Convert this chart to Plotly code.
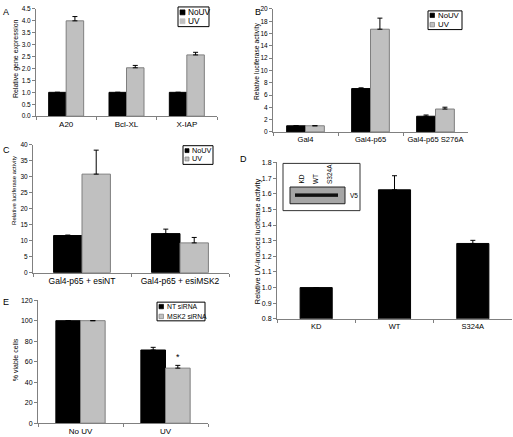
import plotly.graph_objects as go

W, H = 513, 437

# ---------------- data ----------------
a_cats = ["A20", "Bcl-XL", "X-IAP"]
a_nouv = [1.0, 1.0, 1.0]
a_nouv_err = [0, 0, 0]
a_uv = [4.0, 2.03, 2.57]
a_uv_err = [0.18, 0.1, 0.11]

b_cats = ["Gal4", "Gal4-p65", "Gal4-p65 S276A"]
b_nouv = [1.0, 7.05, 2.55]
b_nouv_err = [0, 0.12, 0.2]
b_uv = [1.0, 16.7, 3.72]
b_uv_err = [0, 1.8, 0.3]

c_cats = ["Gal4-p65 + esiNT", "Gal4-p65 + esiMSK2"]
c_nouv = [11.6, 12.2]
c_nouv_err = [0.15, 1.4]
c_uv = [30.8, 9.3]
c_uv_err = [7.5, 1.7]

d_cats = ["KD", "WT", "S324A"]
d_vals = [1.0, 1.625, 1.282]
d_err = [0, 0.09, 0.02]

e_cats = ["No UV", "UV"]
e_nt = [100, 71.4]
e_nt_err = [0, 2.6]
e_msk2 = [100, 53.7]
e_msk2_err = [0, 2.7]

BLACK = "#000000"
GRAY = "#c0c0c0"
EDGE = "#7f7f7f"
AXC = "#808080"
FONT = "Liberation Sans, Arial, sans-serif"


def px(x):
    return x / W


def py(y):
    return 1 - y / H


def bar(x, y, err, color, xa, ya, name, edge, width=None):
    return go.Bar(
        x=x, y=y, name=name, xaxis=xa, yaxis=ya, showlegend=False, width=width,
        marker=dict(color=color, line=dict(color=edge, width=1)),
        error_y=dict(type="data", symmetric=False, array=err,
                     arrayminus=[0] * len(err), color="black",
                     thickness=1, width=2.5),
    )


fig = go.Figure()
# A
fig.add_trace(bar(a_cats, a_nouv, a_nouv_err, BLACK, "x", "y", "NoUV", BLACK))
fig.add_trace(bar(a_cats, a_uv, a_uv_err, GRAY, "x", "y", "UV", EDGE))
# B
fig.add_trace(bar(b_cats, b_nouv, b_nouv_err, BLACK, "x2", "y2", "NoUV", BLACK))
fig.add_trace(bar(b_cats, b_uv, b_uv_err, GRAY, "x2", "y2", "UV", EDGE))
# C
fig.add_trace(bar(c_cats, c_nouv, c_nouv_err, BLACK, "x3", "y3", "NoUV", BLACK))
fig.add_trace(bar(c_cats, c_uv, c_uv_err, GRAY, "x3", "y3", "UV", EDGE))
# D
fig.add_trace(bar(d_cats, d_vals, d_err, BLACK, "x4", "y4", "D", BLACK, width=0.41))
# E
fig.add_trace(bar(e_cats, e_nt, e_nt_err, BLACK, "x5", "y5", "NT siRNA", BLACK))
fig.add_trace(bar(e_cats, e_msk2, e_msk2_err, GRAY, "x5", "y5", "MSK2 siRNA", EDGE))


def xax(x0, x1, anchor, fs):
    return dict(domain=[px(x0), px(x1)], anchor=anchor, type="category",
                showline=True, linecolor=AXC, linewidth=1, showgrid=False,
                zeroline=False, ticks="outside", tickson="boundaries",
                ticklen=3, tickcolor=AXC, fixedrange=True,
                tickfont=dict(family=FONT, size=fs, color="black"))


def yax(y0, y1, anchor, rng, dtick, fmt, fs):
    return dict(domain=[py(y1), py(y0)], anchor=anchor, range=rng,
                dtick=dtick, tick0=rng[0], tickformat=fmt, showline=True,
                linecolor=AXC, linewidth=1, showgrid=False, zeroline=False,
                ticks="outside", ticklen=3, tickcolor=AXC, fixedrange=True,
                tickfont=dict(family=FONT, size=fs, color="black"))


layout = dict(
    width=W, height=H, margin=dict(l=0, r=0, t=0, b=0),
    paper_bgcolor="white", plot_bgcolor="white",
    barmode="group", showlegend=False, bargap=0.42, bargroupgap=0,
    font=dict(family=FONT, color="black"),
    xaxis=xax(36, 217, "y", 8),
    yaxis=yax(5, 114, "x", [0, 4.5], 0.5, ".1f", 6.5),
    xaxis2=xax(273, 468, "y2", 7.6),
    yaxis2=yax(5, 130, "x2", [0, 20], 2, "d", 6.5),
    xaxis3=xax(33, 229, "y3", 8.5),
    yaxis3=yax(143, 273, "x3", [0, 40], 5, "d", 6.5),
    xaxis4=xax(277, 512, "y4", 7.5),
    yaxis4=yax(161, 320, "x4", [0.8, 1.8], 0.1, ".1f", 7),
    xaxis5=xax(38, 208, "y5", 8),
    yaxis5=yax(301, 426, "x5", [0, 120], 20, "d", 7),
)
fig.update_layout(**layout)

shapes = []
annotations = []

# panel letters
for letter, x, y in [("A", 6, 8), ("B", 258, 8), ("C", 6, 148), ("D", 243, 158), ("E", 6, 303)]:
    annotations.append(dict(text=letter, x=px(x), y=py(y), xref="paper", yref="paper",
                            showarrow=False, xanchor="center", yanchor="middle",
                            font=dict(family=FONT, size=9, color="black")))

# y-axis titles
for text, x, y, fs in [("Relative gene expression", 16, 56, 7),
                       ("Relative luciferase activity", 257, 58, 6.7),
                       ("Relative luciferase activity", 14, 190, 6),
                       ("Relative UV-induced luciferase activity", 257, 241, 7.4),
                       ("% viable cells", 15, 362, 7)]:
    annotations.append(dict(text=text, x=px(x), y=py(y), xref="paper", yref="paper",
                            showarrow=False, textangle=-90, xanchor="center", yanchor="middle",
                            font=dict(family=FONT, size=fs, color="black")))


def legend(box, items, fs, sq):
    x0, y0, x1, y1 = box
    shapes.append(dict(type="rect", xref="paper", yref="paper",
                       x0=px(x0), x1=px(x1), y0=py(y1), y1=py(y0),
                       line=dict(color="black", width=1), fillcolor="white"))
    for (label, color, edge, yy) in items:
        shapes.append(dict(type="rect", xref="paper", yref="paper",
                           x0=px(x0 + 2), x1=px(x0 + 2 + sq), y0=py(yy + sq / 2), y1=py(yy - sq / 2),
                           line=dict(color=edge, width=0.7), fillcolor=color))
        annotations.append(dict(text=label, x=px(x0 + 3 + sq), y=py(yy), xref="paper", yref="paper",
                                showarrow=False, xanchor="left", yanchor="middle",
                                font=dict(family=FONT, size=fs, color="black")))


legend((178, 3, 209, 23), [("NoUV", BLACK, BLACK, 8.5), ("UV", GRAY, GRAY, 17.5)], 8.3, 5)
legend((428, 7, 462, 26), [("NoUV", BLACK, BLACK, 11.5), ("UV", GRAY, EDGE, 21)], 7.8, 4.5)
legend((183, 144, 213, 163), [("NoUV", BLACK, BLACK, 149), ("UV", GRAY, EDGE, 157.5)], 7.3, 4)
legend((157, 303, 205, 322), [("NT siRNA", BLACK, BLACK, 307.5), ("MSK2 siRNA", GRAY, EDGE, 317.5)], 6.8, 4.5)

# asterisk in E
annotations.append(dict(text="*", x="UV", y=e_msk2[1] + e_msk2_err[1], xref="x5", yref="y5",
                        xshift=12.5, yshift=1, showarrow=False, yanchor="bottom",
                        font=dict(family=FONT, size=9, color="black")))

# inset in D (western blot picture)
shapes.append(dict(type="rect", xref="paper", yref="paper",
                   x0=px(283), x1=px(360), y0=py(210), y1=py(162),
                   line=dict(color="#333333", width=1), fillcolor="white"))
shapes.append(dict(type="rect", xref="paper", yref="paper",
                   x0=px(290), x1=px(345), y0=py(203), y1=py(186),
                   line=dict(color="#222222", width=1), fillcolor="#a6a6a6"))
for bx0, bx1 in [(295, 309), (309, 323), (323, 338)]:
    shapes.append(dict(type="rect", xref="paper", yref="paper",
                       x0=px(bx0), x1=px(bx1), y0=py(196), y1=py(192.5),
                       line=dict(width=0), fillcolor="#111111"))
for lab, x in [("KD", 302), ("WT", 315), ("S324A", 329)]:
    annotations.append(dict(text=lab, x=px(x), y=py(185), xref="paper", yref="paper",
                            showarrow=False, textangle=-90, xanchor="center", yanchor="bottom",
                            font=dict(family=FONT, size=6.5, color="black")))
annotations.append(dict(text="V5", x=px(348), y=py(195), xref="paper", yref="paper",
                        showarrow=False, xanchor="left", yanchor="middle",
                        font=dict(family=FONT, size=6.5, color="black")))

fig.update_layout(shapes=shapes, annotations=annotations)
fig.write_html("out.html",
               config={"displayModeBar": False, "staticPlot": True},
               post_script="document.body.style.margin='0';document.body.style.overflow='hidden';")
